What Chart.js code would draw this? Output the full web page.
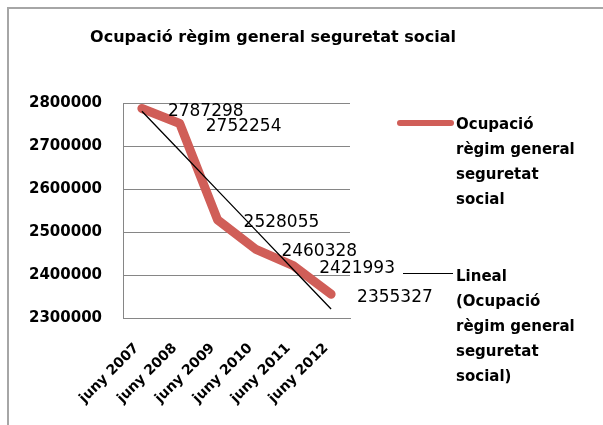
<!DOCTYPE html>
<html><head><meta charset="utf-8">
<script src="https://cdn.jsdelivr.net/npm/chart.js@4"></script>
<style>html,body{margin:0;padding:0;background:#fff;}#wrap{width:603px;height:425px;position:relative;}</style>
</head><body><div id="wrap"><canvas id="c" width="603" height="425"></canvas></div>
<script>
const chartTitle = 'Ocupació règim general seguretat social';
const categories = ['juny 2007','juny 2008','juny 2009','juny 2010','juny 2011','juny 2012'];
const seriesValues = [2787298, 2752254, 2528055, 2460328, 2421993, 2355327];
const yTicks = [2300000, 2400000, 2500000, 2600000, 2700000, 2800000];
const seriesLegend = ['Ocupació','règim general','seguretat','social'];
const trendLegend = ['Lineal','(Ocupació','règim general','seguretat','social)'];

// Linear (least-squares) trendline derived from the series, as Excel does
function linearTrend(vals){
  const n = vals.length; let sx=0, sy=0, sxy=0, sxx=0;
  vals.forEach((v,i)=>{const x=i+1; sx+=x; sy+=v; sxy+=x*v; sxx+=x*x;});
  const b=(n*sxy-sx*sy)/(n*sxx-sx*sx); const a=(sy-b*sx)/n;
  return vals.map((v,i)=>a+b*(i+1));
}
const trendValues = linearTrend(seriesValues);

const RED = '#D05E58';
const FONT = "'DejaVu Sans', sans-serif";

const extras = {
  id:'extras',
  beforeDraw(chart){
    const ctx=chart.ctx; ctx.save();
    ctx.fillStyle='#fff'; ctx.fillRect(0,0,chart.width,chart.height);
    ctx.strokeStyle='#A6A6A6'; ctx.lineWidth=2;
    ctx.beginPath(); ctx.moveTo(8,chart.height+5); ctx.lineTo(8,8); ctx.lineTo(chart.width+5,8); ctx.stroke();
    // title
    ctx.fillStyle='#000'; ctx.font="bold 16px "+FONT; ctx.textAlign='center'; ctx.textBaseline='middle';
    ctx.fillText(chartTitle, 273, 38);
    ctx.restore();
  },
  afterDatasetsDraw(chart){
    const ctx=chart.ctx; ctx.save();
    const meta=chart.getDatasetMeta(0);
    ctx.fillStyle='#000'; ctx.font="17px "+FONT; ctx.textAlign='left'; ctx.textBaseline='middle';
    meta.data.forEach((pt,i)=>{ ctx.fillText(String(seriesValues[i]), pt.x+26, pt.y+3); });
    // legend
    ctx.font="bold 15px "+FONT;
    ctx.strokeStyle=RED; ctx.lineWidth=6; ctx.lineCap='round';
    ctx.beginPath(); ctx.moveTo(400,123); ctx.lineTo(451,123); ctx.stroke();
    seriesLegend.forEach((t,i)=>ctx.fillText(t,456,125+i*25));
    ctx.strokeStyle='#000'; ctx.lineWidth=1.2; ctx.lineCap='butt';
    ctx.beginPath(); ctx.moveTo(403,273.5); ctx.lineTo(453,273.5); ctx.stroke();
    trendLegend.forEach((t,i)=>ctx.fillText(t,456,277+i*25));
    ctx.restore();
  }
};

new Chart(document.getElementById('c'), {
  type:'line',
  data:{
    labels:categories,
    datasets:[
      {label:'Ocupació règim general seguretat social', data:seriesValues, borderColor:RED, borderWidth:9,
       pointRadius:0, tension:0, borderCapStyle:'round', borderJoinStyle:'round', order:2},
      {label:'Lineal (Ocupació règim general seguretat social)', data:trendValues, borderColor:'#000', borderWidth:1.3,
       pointRadius:0, tension:0, order:1}
    ]
  },
  options:{
    responsive:false, animation:false, devicePixelRatio:1,
    layout:{padding:{left:0,top:103,right:253,bottom:0}},
    plugins:{legend:{display:false}, title:{display:false}, tooltip:{enabled:false}},
    scales:{
      x:{
        offset:true,
        grid:{display:false, drawTicks:false},
        border:{display:true, color:'#868686', width:1},
        ticks:{minRotation:45, maxRotation:45, padding:22, labelOffset:-5, color:'#000', font:{family:FONT, size:14, weight:'bold'}},
        afterFit(s){ s.height = 107; }
      },
      y:{
        min:2300000, max:2800000,
        afterBuildTicks(s){ s.ticks = yTicks.map(v=>({value:v})); },
        grid:{color:'#868686', drawTicks:false},
        border:{display:true, color:'#868686', width:1},
        ticks:{padding:21, color:'#000', font:{family:FONT, size:15, weight:'bold'}, callback:v=>String(v)},
        afterFit(s){ s.width = 123; }
      }
    }
  },
  plugins:[extras]
});
</script>
</body></html>
